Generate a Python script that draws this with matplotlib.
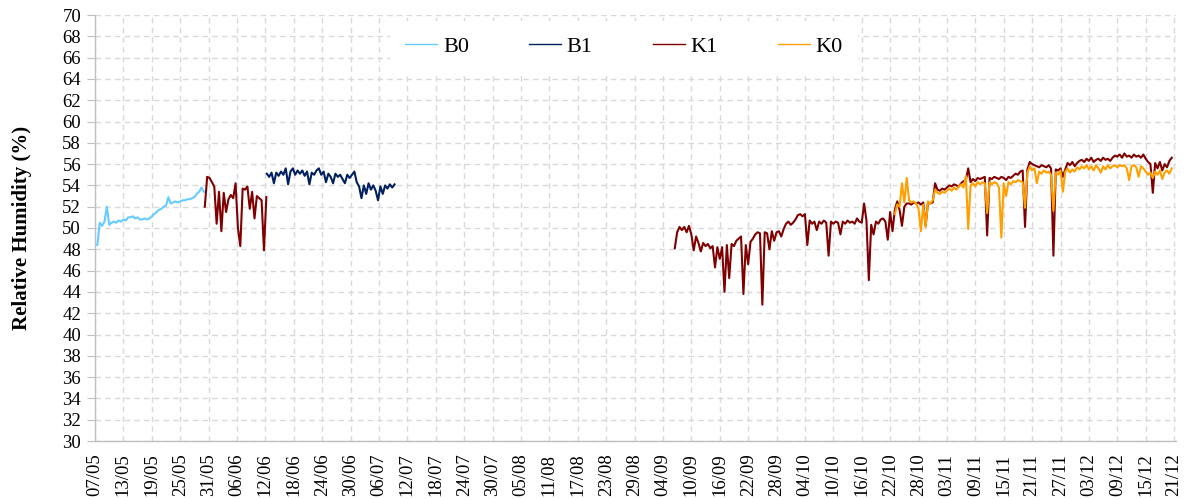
import numpy as np
import matplotlib
matplotlib.use("Agg")
import matplotlib.pyplot as plt

plt.rcParams['font.family'] = ['Liberation Serif', 'DejaVu Serif']

# ---------------- data (day offsets from 07/05, sampled every 0.5 day) ----------------
tick_labels = ["07/05", "13/05", "19/05", "25/05", "31/05", "06/06", "12/06", "18/06",
               "24/06", "30/06", "06/07", "12/07", "18/07", "24/07", "30/07", "05/08",
               "11/08", "17/08", "23/08", "29/08", "04/09", "10/09", "16/09", "22/09",
               "28/09", "04/10", "10/10", "16/10", "22/10", "28/10", "03/11", "09/11",
               "15/11", "21/11", "27/11", "03/12", "09/12", "15/12", "21/12"]
tick_step_days = 6
sample_step = 0.5

b0_start = 0.5
b0_values = [48.4, 50.5, 50.2, 50.6, 52.0, 50.3, 50.5, 50.6, 50.5, 50.7, 50.6, 50.8,
             50.7, 51.0, 51.0, 51.1, 50.9, 51.0, 50.8, 50.8, 50.9, 50.8, 50.9, 51.1,
             51.3, 51.5, 51.7, 51.8, 52.0, 52.1, 52.9, 52.3, 52.4, 52.5, 52.4, 52.5,
             52.6, 52.6, 52.7, 52.7, 52.8, 52.9, 53.2, 53.4, 53.8, 53.4]

k1a_start = 23.2
k1a_values = [52.0, 54.8, 54.7, 54.3, 53.9, 50.4, 53.4, 49.7, 53.3, 51.5, 52.7, 53.1,
              52.8, 54.2, 50.0, 48.3, 53.7, 53.6, 53.9, 51.8, 53.4, 50.9, 53.0, 52.8,
              52.6, 47.9, 52.9]

b1_start = 36.3
b1_values = [55.1, 54.8, 55.2, 54.2, 55.2, 54.9, 55.3, 55.0, 55.6, 54.1, 55.3, 55.6,
             55.0, 55.4, 55.1, 55.4, 54.9, 55.3, 54.1, 55.2, 55.0, 55.4, 55.6, 55.0,
             55.3, 54.3, 55.1, 54.8, 54.2, 55.1, 54.8, 55.0, 54.6, 54.2, 55.0, 54.7,
             55.0, 55.3, 54.3, 53.9, 52.8, 54.0, 53.2, 54.2, 53.6, 54.0, 53.5, 52.6,
             53.9, 53.2, 54.0, 53.7, 54.1, 53.8, 54.1]

k1b_start = 122.5
k1b_values = [48.1, 49.6, 50.1, 49.8, 50.1, 49.6, 50.2, 49.4, 47.9, 49.2, 48.6, 47.8,
              48.6, 48.3, 48.5, 48.1, 48.3, 46.3, 48.2, 47.1, 48.2, 44.0, 48.4, 45.3,
              48.5, 48.3, 48.8, 49.0, 49.2, 43.8, 48.4, 46.6, 48.7, 49.0, 49.4, 49.6,
              49.5, 42.8, 49.6, 49.5, 48.0, 49.7, 48.8, 49.6, 49.7, 49.2, 49.9, 50.4,
              50.6, 50.3, 50.5, 50.8, 51.2, 51.3, 51.1, 51.3, 48.4, 50.7, 50.4, 50.6,
              49.8, 50.6, 50.4, 50.7, 50.5, 47.4, 50.6, 50.4, 50.6, 50.5, 49.4, 50.6,
              50.4, 50.7, 50.5, 50.6, 50.4, 50.9, 50.6, 50.5, 52.3, 50.7, 45.1, 50.3,
              49.4, 50.6, 50.4, 50.8, 50.9, 50.6, 48.9, 51.5, 49.7, 51.7, 52.5, 51.7,
              50.2, 52.0, 52.3, 52.3, 52.2, 52.4, 52.3, 52.4, 52.2, 52.4, 50.2, 52.4,
              52.3, 52.4, 54.2, 53.6, 53.5, 53.7, 53.6, 53.8, 54.0, 53.9, 54.1, 54.0,
              53.9, 54.2, 54.4, 54.5, 55.6, 54.3, 54.6, 54.4, 54.7, 54.6, 54.7, 54.8,
              49.3, 54.7, 54.6, 54.8, 54.7, 54.6, 54.8, 54.7, 54.5, 54.8, 54.7, 54.9,
              55.1, 55.0, 55.3, 55.4, 50.1, 55.5, 56.2, 56.0, 55.9, 55.8, 55.7, 55.9,
              55.8, 55.7, 55.9, 55.6, 47.4, 55.5, 55.4, 55.6, 54.8, 55.5, 56.1, 55.9,
              56.2, 55.8, 56.1, 56.3, 56.4, 56.2, 56.5, 56.3, 56.6, 56.2, 56.4, 56.5,
              56.3, 56.6, 56.4, 56.5, 56.3, 56.6, 56.8, 56.7, 56.9, 56.6, 57.0, 56.7,
              56.8, 56.6, 56.9, 56.7, 56.8, 56.6, 56.9, 56.5, 56.2, 56.0, 53.3, 56.1,
              55.6, 56.2, 55.4, 56.0, 55.7, 56.3, 56.6]

k0_start = 169.0
k0_values = [51.3, 52.2, 52.0, 54.2, 52.4, 54.7, 52.6, 52.4, 52.5, 52.3, 51.8, 49.7,
             52.2, 50.1, 52.5, 52.3, 52.6, 53.6, 53.3, 53.2, 53.4, 53.3, 53.5, 53.7,
             53.5, 53.8, 53.6, 53.9, 54.1, 53.8, 54.9, 49.9, 54.0, 54.2, 53.9, 54.3,
             54.1, 54.3, 54.2, 51.4, 54.3, 54.1, 54.3, 54.2, 53.8, 49.1, 54.2, 53.0,
             54.3, 54.1, 54.4, 54.3, 54.5, 54.4, 54.3, 51.9, 55.2, 55.8, 55.4, 55.6,
             54.2, 55.3, 55.1, 55.4, 55.2, 55.3, 55.0, 51.6, 55.2, 55.0, 55.4, 53.4,
             55.3, 55.6, 55.2, 55.5, 55.3, 55.7, 55.5, 55.8, 55.6, 55.9, 55.5, 55.8,
             55.4, 55.9, 55.6, 55.2, 55.8, 55.5, 55.9, 55.6, 55.8, 55.9, 55.7, 55.9,
             55.8, 55.9, 55.6, 54.5, 55.8, 55.9, 55.7, 54.8, 55.8, 55.6, 55.3, 55.0,
             55.2, 54.7, 55.3, 55.0, 55.4, 54.6, 55.2, 55.4, 55.1, 55.6]

colors = {"B0": "#66CCFF", "B1": "#002060", "K1": "#7F0000", "K0": "#FFA000"}


def times(start, values):
    return start + sample_step * np.arange(len(values))


# ---------------- figure ----------------
W, H = 1186, 499
fig = plt.figure(figsize=(W / 100, H / 100), dpi=100)
ax = fig.add_axes([95 / W, 58 / H, (1176 - 95) / W, 426 / H])

lw = 1.5
ax.plot(times(b0_start, b0_values), b0_values, color=colors["B0"], lw=lw, label="B0", zorder=3)
ax.plot(times(b1_start, b1_values), b1_values, color=colors["B1"], lw=lw, label="B1", zorder=3)
ax.plot(times(k1b_start, k1b_values), k1b_values, color=colors["K1"], lw=lw, label="K1", zorder=3)
ax.plot(times(k1a_start, k1a_values), k1a_values, color=colors["K1"], lw=lw, zorder=3)
ax.plot(times(k0_start, k0_values), k0_values, color=colors["K0"], lw=lw, label="K0", zorder=4)

n_days = tick_step_days * (len(tick_labels) - 1)
ax.set_xlim(0, n_days + 0.4)
ax.set_ylim(30, 70)
ax.set_xticks(np.arange(len(tick_labels)) * tick_step_days)
ax.set_xticklabels(tick_labels, rotation=90, fontsize=13.5)
ax.set_yticks(np.arange(30, 71, 2))
ax.tick_params(axis='y', labelsize=13.5, length=6, color='#bfbfbf', pad=4)
ax.tick_params(axis='x', length=0, pad=9)

ax.grid(True, color='#d9d9d9', lw=1.0, linestyle=(0, (4, 3)))
ax.set_axisbelow(True)
for s in ['top', 'right']:
    ax.spines[s].set_visible(False)
for s in ['left', 'bottom']:
    ax.spines[s].set_color('#bfbfbf')
    ax.spines[s].set_linewidth(1.0)

ax.set_ylabel("Relative Humidity (%)", fontsize=15, fontweight='bold', labelpad=22)

leg = ax.legend(loc='center', bbox_to_anchor=(624 / W, 1 - 47 / H), bbox_transform=fig.transFigure,
                ncol=4, frameon=True, fontsize=16, handlelength=1.45, handletextpad=0.25,
                columnspacing=2.7, borderpad=0.7, fancybox=False)
leg.get_frame().set_facecolor('white')
leg.get_frame().set_edgecolor('none')
leg.get_frame().set_alpha(1.0)
for line in leg.get_lines():
    line.set_linewidth(1.0)

fig.savefig("out.png", dpi=100)
